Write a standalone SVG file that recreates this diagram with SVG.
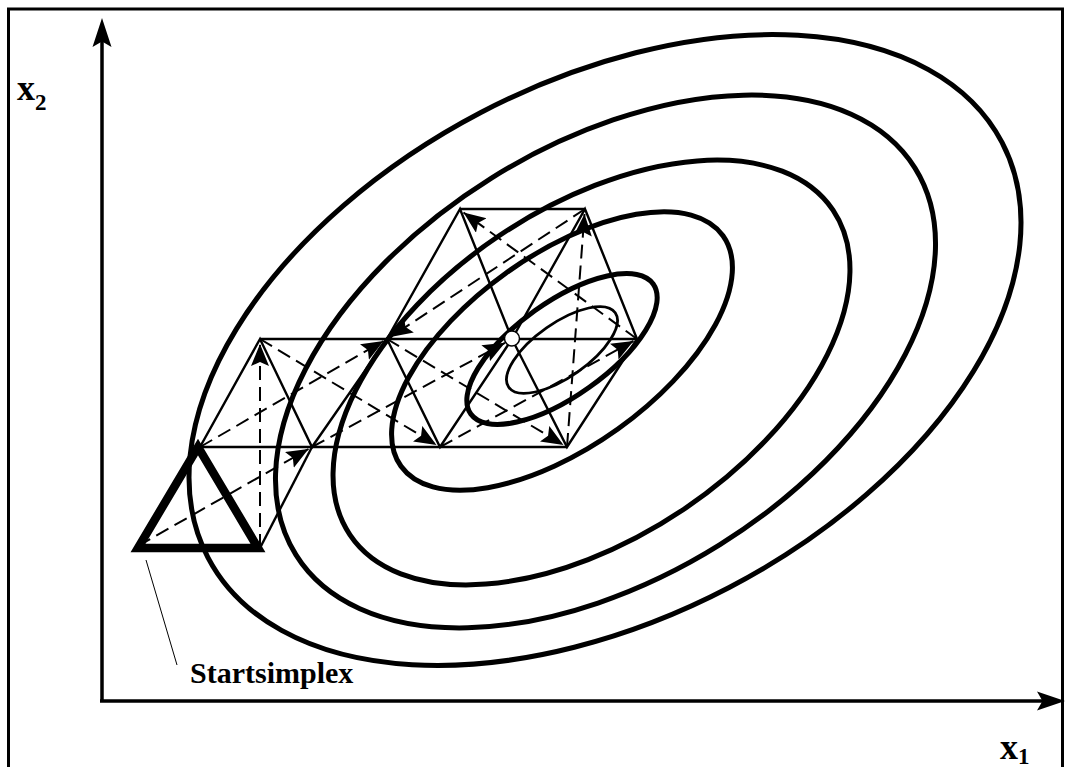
<svg xmlns="http://www.w3.org/2000/svg" width="1068" height="767" viewBox="0 0 1068 767">
<defs>
<style>
.frame{fill:none;stroke:#000;stroke-width:3}
.axis{fill:none;stroke:#000;stroke-width:3.5}
.contour{fill:none;stroke:#000;stroke-width:5}
.thin{fill:none;stroke:#000;stroke-width:2.8}
.edge{fill:none;stroke:#000;stroke-width:2.4}
.step{fill:none;stroke:#000;stroke-width:2;stroke-dasharray:14 7;marker-end:url(#ah)}
.lbl{font-family:"Liberation Serif","Times New Roman",serif;font-weight:bold;fill:#000}
</style>
<marker id="ah" markerUnits="userSpaceOnUse" markerWidth="26" markerHeight="20" refX="22" refY="9" orient="auto"><path d="M0,0 L22,9 L0,18 L4,9 z" fill="#000"/></marker>
</defs>
<rect x="0" y="0" width="1068" height="767" fill="#fff"/>
<rect class="frame" x="8.5" y="9" width="1054" height="780"/>
<g id="axes">
<line class="axis" x1="102" y1="702" x2="102" y2="40"/>
<polygon points="102,18 92.5,47 102,41.5 111.5,47" fill="#000"/>
<line class="axis" x1="100" y1="701" x2="1045" y2="701"/>
<polygon points="1065,701 1037,691.5 1042.5,701 1037,710.5" fill="#000"/>
</g>
<g id="contours">
<ellipse id="contour-1" class="contour" cx="605" cy="350" rx="448" ry="268" transform="rotate(-27.6 605 350)"/>
<ellipse id="contour-2" class="contour" cx="605.5" cy="361.5" rx="365" ry="216" transform="rotate(-32 605.5 361.5)"/>
<ellipse id="contour-3" class="contour" cx="591.5" cy="372.5" rx="291" ry="165" transform="rotate(-33.9 591.5 372.5)"/>
<ellipse id="contour-4" class="contour" cx="562" cy="351" rx="198" ry="96" transform="rotate(-35.6 562 351)"/>
<ellipse id="contour-5" class="contour" cx="562" cy="349" rx="112" ry="47" transform="rotate(-35.5 562 349)"/>
<ellipse id="contour-6" class="thin" cx="562" cy="350" rx="65" ry="27" transform="rotate(-35 562 350)"/>
</g>
<g id="simplex-edges">
<line class="edge" x1="200" y1="447" x2="567" y2="447"/>
<line class="edge" x1="260" y1="339" x2="637" y2="339"/>
<line class="edge" x1="460" y1="209" x2="585" y2="209"/>
<polyline class="edge" points="200,447 260,339 312,447 387,339 440,447 512,339 567,447 637,339"/>
<line class="edge" x1="260" y1="548" x2="312" y2="447"/>
<polyline class="edge" points="387,339 460,209 512,339 585,209 637,339"/>
</g>
<g id="connectors">
<line class="step" x1="260" y1="548" x2="260" y2="344"/>
<line class="step" x1="138" y1="546" x2="308.5" y2="449"/>
<line class="step" x1="200" y1="447" x2="383.5" y2="341"/>
<line class="step" x1="260" y1="339" x2="436.5" y2="445"/>
<line class="step" x1="312" y1="447" x2="505" y2="342.8"/>
<line class="step" x1="387" y1="339" x2="563.5" y2="445"/>
<line class="step" x1="440" y1="447" x2="633.5" y2="341"/>
<line class="step" x1="585" y1="209" x2="390.5" y2="337"/>
<line class="step" x1="637" y1="339" x2="463.5" y2="212.5"/>
<line class="step" x1="567" y1="447" x2="584.5" y2="214"/>
</g>
<g id="start-simplex">
<polygon points="138,548 258,548 198,447" fill="none" stroke="#000" stroke-width="8.5" stroke-linejoin="miter"/>
<line x1="146" y1="560" x2="177" y2="665" stroke="#000" stroke-width="1"/>
<text class="lbl" x="190" y="683" font-size="30">Startsimplex</text>
</g>
<g id="optimum">
<circle cx="512" cy="338.5" r="7.5" fill="#fff" stroke="#000" stroke-width="1.5"/>
</g>
<g id="labels">
<text class="lbl" x="17" y="100" font-size="36">x<tspan font-size="23" dy="10">2</tspan></text>
<text class="lbl" x="1000" y="759" font-size="36">x<tspan font-size="23" dy="5">1</tspan></text>
</g>
</svg>
